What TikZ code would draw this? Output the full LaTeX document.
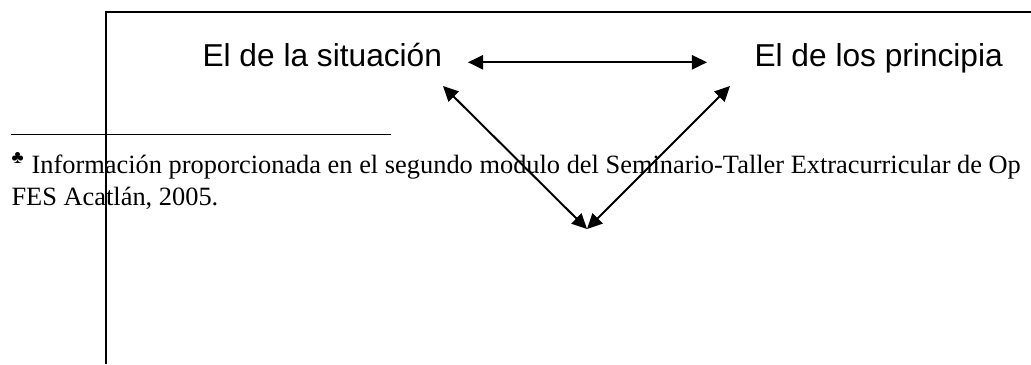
\documentclass[tikz,border=0pt]{standalone}
\usepackage{fontspec}
\setmainfont{Liberation Serif}
\newfontfamily\arialfont{Liberation Sans}
\usetikzlibrary{arrows.meta}
\newcommand{\framecolor}{black}
\newcommand{\thickness}{0.75pt}
\newcommand{\tip}{Triangle[length=5.7pt,width=5.4pt]}

\begin{document}
\begin{tikzpicture}[x=0.3788pt,y=-0.3788pt,
  boxtext/.style={font=\arialfont\fontsize{12}{14}\selectfont, inner sep=0pt, anchor=base west},
  fntext/.style={font=\fontsize{10}{12}\selectfont, inner sep=0pt, anchor=base west},
  link/.style={line width=\thickness, {\tip}-{\tip}}]
\useasboundingbox (0,0) rectangle (1031,364);
\node[boxtext] (sit) at (202,66.7) {El de la situación};
\node[boxtext] (prin) at (754,66.7) {El de los principia};
\coordinate (h1) at (468,62.3);
\coordinate (h2) at (707,62.3);
\coordinate (d1) at (443,86);
\coordinate (d2) at (730,86);
\coordinate (m) at (587,229);
\draw[link] (h1) -- (h2);
\draw[link] (d1) -- (m);
\draw[link] (d2) -- (m);
% footnote
\coordinate (r1) at (11,134.3);
\coordinate (r2) at (391,134.3);
\draw[line width=0.6pt] (r1) -- (r2);
\node[fntext] (fn1) at (11,173.3) {\textsuperscript{♣} Información proporcionada en el segundo modulo del Seminario-Taller Extracurricular de Op};
\node[fntext] (fn2) at (11,205) {FES Acatlán, 2005.};
% frame
\draw[\framecolor, line width=\thickness] (1031,12) -- (106,12) -- (106,364);
\end{tikzpicture}
\end{document}
